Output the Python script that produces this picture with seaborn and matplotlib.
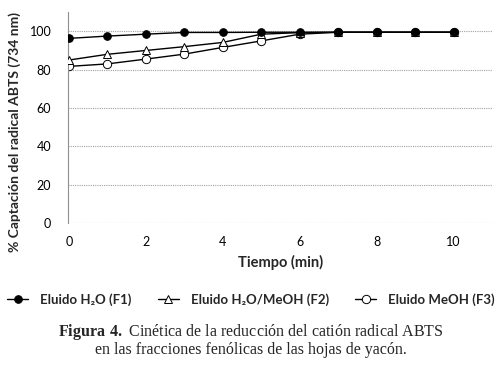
import pandas as pd
import numpy as np
import seaborn as sns
import matplotlib.pyplot as plt

# Datos
tiempo = [0, 1, 2, 3, 4, 5, 6, 7, 8, 9, 10]
f1 = [96.3, 97.5, 98.5, 99.4, 99.4, 99.5, 99.5, 99.5, 99.5, 99.5, 99.5]
f2 = [85.0, 88.0, 90.0, 92.0, 94.2, 98.5, 99.3, 99.5, 99.5, 99.5, 99.5]
f3 = [81.7, 83.0, 85.5, 88.1, 91.6, 95.0, 98.5, 99.5, 99.5, 99.5, 99.5]
etiquetas = ['Eluido H₂O (F1)', 'Eluido H₂O/MeOH (F2)', 'Eluido MeOH (F3)']

df = pd.DataFrame({'Tiempo': tiempo * 3,
                   'Captacion': f1 + f2 + f3,
                   'Serie': np.repeat(etiquetas, len(tiempo))})

sns.set_theme(style='white')
plt.rcParams['font.family'] = ['Lato', 'DejaVu Sans']
plt.rcParams['mathtext.fontset'] = 'custom'
plt.rcParams['mathtext.rm'] = 'Liberation Serif'
plt.rcParams['mathtext.bf'] = 'Liberation Serif:bold'

fig = plt.figure(figsize=(5.02, 3.67), dpi=100)
ax = fig.add_axes([0.1355, 0.392, 0.845, 0.575])

# F1 encima de las otras series (como en el original)
estilos = {
    etiquetas[0]: dict(marker='o', markerfacecolor='black', markersize=5.5, zorder=4),
    etiquetas[1]: dict(marker='^', markerfacecolor='white', markersize=5.5, zorder=3),
    etiquetas[2]: dict(marker='o', markerfacecolor='white', markersize=6, zorder=2),
}
for serie in etiquetas:
    sub = df[df['Serie'] == serie]
    sns.lineplot(data=sub, x='Tiempo', y='Captacion', ax=ax, color='black',
                 linewidth=1.0, markeredgecolor='black', markeredgewidth=0.7,
                 label=serie, legend=False, **estilos[serie])

ax.set_xlim(-0.02, 11)
ax.set_ylim(0, 110)
ax.set_xticks([0, 2, 4, 6, 8, 10])
ax.set_yticks([0, 20, 40, 60, 80, 100])
ax.yaxis.grid(True, color='#a0a0a0', linestyle=(0, (1, 1)), linewidth=0.8)
ax.set_axisbelow(True)
for s in ['top', 'right', 'bottom']:
    ax.spines[s].set_visible(False)
ax.spines['left'].set_color('#909090')
ax.spines['left'].set_linewidth(0.8)
ax.tick_params(axis='both', length=0, labelsize=9, colors='black')
ax.tick_params(axis='x', pad=9)
ax.tick_params(axis='y', pad=12)

ax.set_xlabel('Tiempo (min)', fontsize=10.5, fontweight='bold', labelpad=5)
ax.set_ylabel('% Captación del radical ABTS (734 nm)', fontsize=10,
              fontweight='bold')
ax.yaxis.set_label_coords(-0.112, 0.43)

handles, labels = ax.get_legend_handles_labels()
fig.legend(handles, labels, loc='center', bbox_to_anchor=(0.5, 0.183), ncol=3,
           frameon=False, prop={'weight': 'bold', 'size': 9.5},
           handlelength=1.6, columnspacing=2.0, handletextpad=0.9)

fig.text(0.5, 0.095, r'$\bf{Figura\ 4.}$' + ' Cinética de la reducción del catión radical ABTS',
         ha='center', va='center', fontsize=11.5, family='Liberation Serif')
fig.text(0.5, 0.045, 'en las fracciones fenólicas de las hojas de yacón.',
         ha='center', va='center', fontsize=11.5, family='Liberation Serif')

fig.savefig('out.png', dpi=100)
